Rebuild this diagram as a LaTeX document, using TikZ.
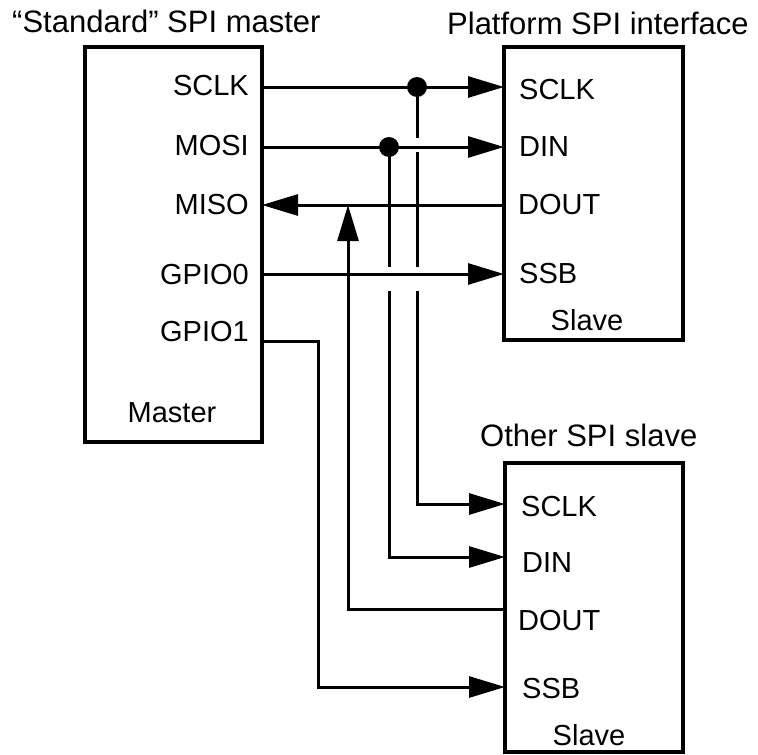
\documentclass[tikz,border=0pt]{standalone}
\usepackage{fontspec}
\setmainfont{Liberation Sans}
\usetikzlibrary{arrows.meta}
\begin{document}
\begin{tikzpicture}[x=1pt,y=-1pt,
  box/.style={draw, line width=3.5pt, inner sep=0pt},
  wire/.style={line width=3pt},
  arr/.style={wire, -{Triangle[length=36pt,width=21pt]}},
  lbl/.style={inner sep=0pt, font=\fontsize{29}{34}\selectfont},
  ttl/.style={inner sep=0pt, font=\fontsize{31}{36}\selectfont},
  jdot/.style={circle, fill, inner sep=0pt, minimum size=20pt}]
\useasboundingbox (0,0) rectangle (758,755);

% boxes
\node[box, minimum width=177pt, minimum height=395pt] (master) at (173.5,244.5) {};
\node[box, minimum width=179pt, minimum height=293pt] (plat) at (593.5,193.5) {};
\node[box, minimum width=178pt, minimum height=289pt] (other) at (594,607.5) {};

% titles
\node[ttl, anchor=west] (tm) at (12,21) {“Standard” SPI master};
\node[ttl, anchor=west] (tp) at (447,23) {Platform SPI interface};
\node[ttl, anchor=west] (to) at (480,435) {Other SPI slave};

% master labels
\node[lbl, anchor=east] (lm1) at (249,86) {SCLK};
\node[lbl, anchor=east] (lm2) at (249,146) {MOSI};
\node[lbl, anchor=east] (lm3) at (249,205) {MISO};
\node[lbl, anchor=east] (lm4) at (249,275) {GPIO0};
\node[lbl, anchor=east] (lm5) at (249,332) {GPIO1};
\node[lbl] (lm6) at (172,413) {Master};

% platform labels
\node[lbl, anchor=west] (lp1) at (519,90) {SCLK};
\node[lbl, anchor=west] (lp2) at (519,147) {DIN};
\node[lbl, anchor=west] (lp3) at (518,205) {DOUT};
\node[lbl, anchor=west] (lp4) at (519,274) {SSB};
\node[lbl] (lp5) at (587,320) {Slave};

% other slave labels
\node[lbl, anchor=west] (lo1) at (521,507) {SCLK};
\node[lbl, anchor=west] (lo2) at (522,563) {DIN};
\node[lbl, anchor=west] (lo3) at (518,621) {DOUT};
\node[lbl, anchor=west] (lo4) at (522,689) {SSB};
\node[lbl] (lo5) at (589,735) {Slave};

% pins
\coordinate (mSCLK) at (262,87);
\coordinate (mMOSI) at (262,147);
\coordinate (mMISO) at (262,205);
\coordinate (mGPIO0) at (262,274);
\coordinate (mGPIO1) at (262,341);
\coordinate (pSCLK) at (504,87);
\coordinate (pDIN) at (504,147);
\coordinate (pDOUT) at (504,205);
\coordinate (pSSB) at (504,274);
\coordinate (oSCLK) at (505,504);
\coordinate (oDIN) at (505,557);
\coordinate (oDOUT) at (505,609);
\coordinate (oSSB) at (505,687);

% junctions and helper points
\node[jdot] (j1) at (417,87) {};
\node[jdot] (j2) at (389,147) {};
\coordinate (s1a) at (417,138);
\coordinate (s1b) at (417,152);
\coordinate (s1c) at (417,267);
\coordinate (s1d) at (417,291);
\coordinate (s2a) at (389,267);
\coordinate (s2b) at (389,291);
\coordinate (up) at (348,205);
\coordinate (g1) at (318,341);

% main wires
\draw[arr] (mSCLK) -- (pSCLK);
\draw[arr] (mMOSI) -- (pDIN);
\draw[arr] (pDOUT) -- (mMISO);
\draw[arr] (mGPIO0) -- (pSSB);
\draw[arr] (mGPIO1) -- (g1) |- (oSSB);

% branches to other slave
\draw[wire] (j1.center) -- (s1a);
\draw[wire] (s1b) -- (s1c);
\draw[arr] (s1d) |- (oSCLK);
\draw[wire] (j2.center) -- (s2a);
\draw[arr] (s2b) |- (oDIN);
\draw[arr] (oDOUT) -| (up);
\end{tikzpicture}
\end{document}
